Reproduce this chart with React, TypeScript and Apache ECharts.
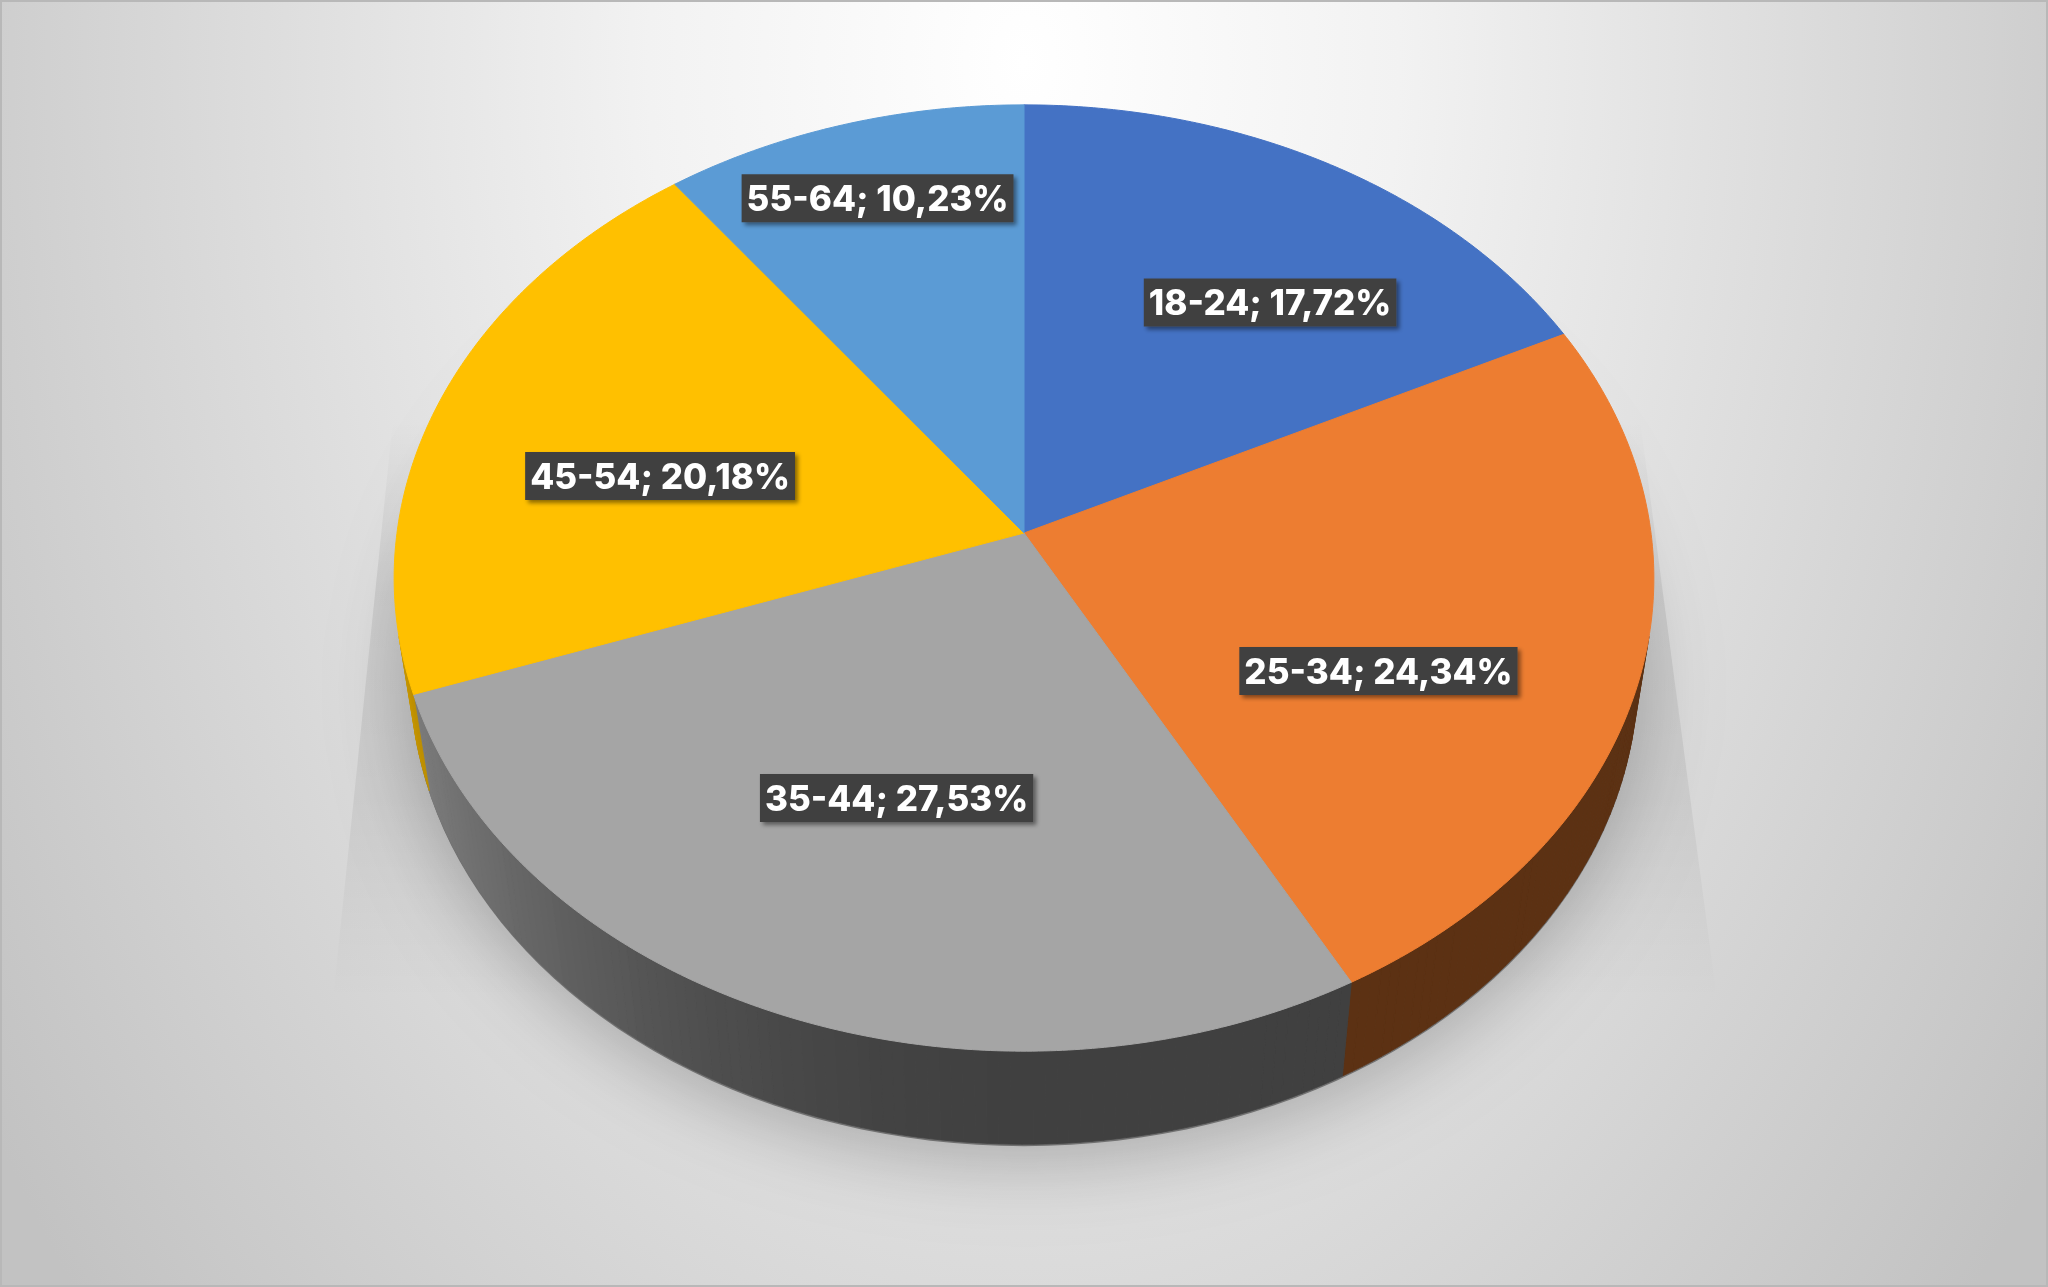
import React, { useEffect, useRef } from 'react';
import * as echarts from 'echarts';

// ---- data ----
const categories = ['18-24', '25-34', '35-44', '45-54', '55-64'];
const shares = [17.72, 24.34, 27.53, 20.18, 10.23];

// ---- style / layout ----
const topColors = ['#4472c4', '#ed7d31', '#a5a5a5', '#ffc000', '#5b9bd5'];
const labelRadius = [0.66, 0.62, 0.57, 0.6, 0.806];
const labelAngleShift = [6.7, 9.9, -1.2, -5.0, 0.3];

const W = 2048;
const H = 1287;
const CX = 1024;
const CY = 533;
const TILT = (48.4 * Math.PI) / 180;
const PERSP = 0.1433; // radius / camera distance
const DEPTH = 0.24; // thickness / radius
const HALF_W = 627;

const D = 1 / PERSP;
const F = HALF_W * D;
const sinA = Math.sin(TILT);
const cosA = Math.cos(TILT);
const VIS_COS = -PERSP / cosA; // side wall visible where cos(theta) < VIS_COS

function project(theta: number, r: number, y: number): number[] {
  const X = r * Math.sin(theta);
  const Z = r * Math.cos(theta);
  const yp = y * cosA + Z * sinA;
  const zp = -y * sinA + Z * cosA;
  const k = F / (D + zp);
  return [CX + X * k, CY - yp * k];
}

function shade(hex: string, f: number): string {
  const n = parseInt(hex.slice(1), 16);
  const r = Math.round(((n >> 16) & 255) * f);
  const g = Math.round(((n >> 8) & 255) * f);
  const b = Math.round((n & 255) * f);
  return `rgb(${r},${g},${b})`;
}

function sideFactor(theta: number): number {
  const s = Math.max(0, -Math.sin(theta));
  return 0.39 + 0.4 * s * s;
}

const DEG = Math.PI / 180;

function renderItem(params: any, api: any) {
  const i = params.dataIndex;
  const total = shares.reduce((a, b) => a + b, 0);
  let cum = 0;
  for (let j = 0; j < i; j++) cum += shares[j];
  const value = api.value(0);
  const a0 = (cum / total) * Math.PI * 2;
  const a1 = ((cum + value) / total) * Math.PI * 2;
  const color = topColors[i % topColors.length];
  const children: any[] = [];

  // side wall (visible part only)
  const vis0 = Math.acos(VIS_COS);
  const vis1 = Math.PI * 2 - vis0;
  const lo = Math.max(a0, vis0);
  const hi = Math.min(a1, vis1);
  if (lo < hi) {
    const steps = Math.max(1, Math.ceil((hi - lo) / DEG));
    for (let s = 0; s < steps; s++) {
      const t0 = lo + ((hi - lo) * s) / steps;
      const t1 = lo + ((hi - lo) * (s + 1)) / steps;
      const c = shade(color, sideFactor((t0 + t1) / 2));
      children.push({
        type: 'polygon',
        z2: 1,
        shape: {
          points: [project(t0, 1, 0), project(t1, 1, 0), project(t1, 1, -DEPTH), project(t0, 1, -DEPTH)],
        },
        style: { fill: c, stroke: c, lineWidth: 0.8 },
      });
    }
  }

  // top face
  const pts: number[][] = [project(0, 0, 0)];
  const n = Math.max(2, Math.ceil((a1 - a0) / (0.5 * DEG)));
  for (let s = 0; s <= n; s++) {
    pts.push(project(a0 + ((a1 - a0) * s) / n, 1, 0));
  }
  children.push({
    type: 'polygon',
    z2: 2,
    shape: { points: pts },
    style: { fill: color, stroke: color, lineWidth: 1 },
  });

  // label
  const mid = (a0 + a1) / 2 + labelAngleShift[i] * DEG;
  const lp = project(mid, labelRadius[i], 0);
  const label = `${categories[i]}; ${value.toFixed(2).replace('.', ',')}%`;
  children.push({
    type: 'text',
    x: lp[0],
    y: lp[1],
    z2: 100,
    style: {
      text: label,
      align: 'center',
      verticalAlign: 'middle',
      fill: '#ffffff',
      font: '800 35px Inter',
      lineHeight: 42,
      backgroundColor: '#404040',
      padding: [3, 5, 3, 5],
      shadowColor: 'rgba(0,0,0,0.45)',
      shadowBlur: 4,
      shadowOffsetX: 3,
      shadowOffsetY: 3,
    },
  });

  return { type: 'group', children };
}

function bottomOutline(offsetY: number): number[][] {
  const pts: number[][] = [];
  for (let d = 0; d < 360; d += 2) {
    const p = project(d * DEG, 1, -DEPTH);
    pts.push([p[0], p[1] + offsetY]);
  }
  return pts;
}

export default function App() {
  const ref = useRef<HTMLDivElement>(null);
  useEffect(() => {
    if (!ref.current) return;
    const chart = echarts.init(ref.current, undefined, { renderer: 'svg' });
    const option: any = {
      animation: false,
      backgroundColor: 'transparent',
      graphic: {
        elements: [
          {
            type: 'rect',
            z: -10,
            silent: true,
            shape: { x: 0, y: 0, width: W, height: 3100 },
            style: {
              fill: {
                type: 'radial',
                x: 0.5,
                y: 0.02,
                r: 0.61,
                colorStops: [
                  { offset: 0, color: '#ffffff' },
                  { offset: 0.3, color: '#f2f2f2' },
                  { offset: 1, color: '#c2c2c2' },
                ],
              },
            },
          },
          {
            type: 'polygon',
            z: -8,
            silent: true,
            shape: { points: [[393, 420], [1640, 420], [1717, 1000], [333, 1000]] },
            style: {
              fill: {
                type: 'linear',
                x: 0,
                y: 0,
                x2: 0,
                y2: 1,
                colorStops: [
                  { offset: 0, color: 'rgba(0,0,0,0)' },
                  { offset: 0.3, color: 'rgba(0,0,0,0.08)' },
                  { offset: 0.65, color: 'rgba(0,0,0,0.06)' },
                  { offset: 1, color: 'rgba(0,0,0,0)' },
                ],
              },
            },
          },
          {
            type: 'polygon',
            z: -6,
            silent: true,
            shape: { points: bottomOutline(2) },
            style: {
              fill: 'rgba(0,0,0,0.4)',
              shadowBlur: 80,
              shadowOffsetY: 12,
              shadowColor: 'rgba(0,0,0,0.65)',
            },
          },
          {
            type: 'rect',
            z: 50,
            silent: true,
            shape: { x: 1, y: 1, width: W - 2, height: H - 2 },
            style: { fill: 'none', stroke: '#b8b8b8', lineWidth: 2 },
          },
        ],
      },
      series: [
        {
          type: 'custom',
          coordinateSystem: 'none',
          z: 10,
          renderItem,
          data: shares.map((v, i) => ({ name: categories[i], value: v })),
        },
      ],
    };
    chart.setOption(option);
    return () => chart.dispose();
  }, []);
  return <div ref={ref} style={{ position: 'fixed', left: 0, top: 0, width: W, height: H }} />;
}
